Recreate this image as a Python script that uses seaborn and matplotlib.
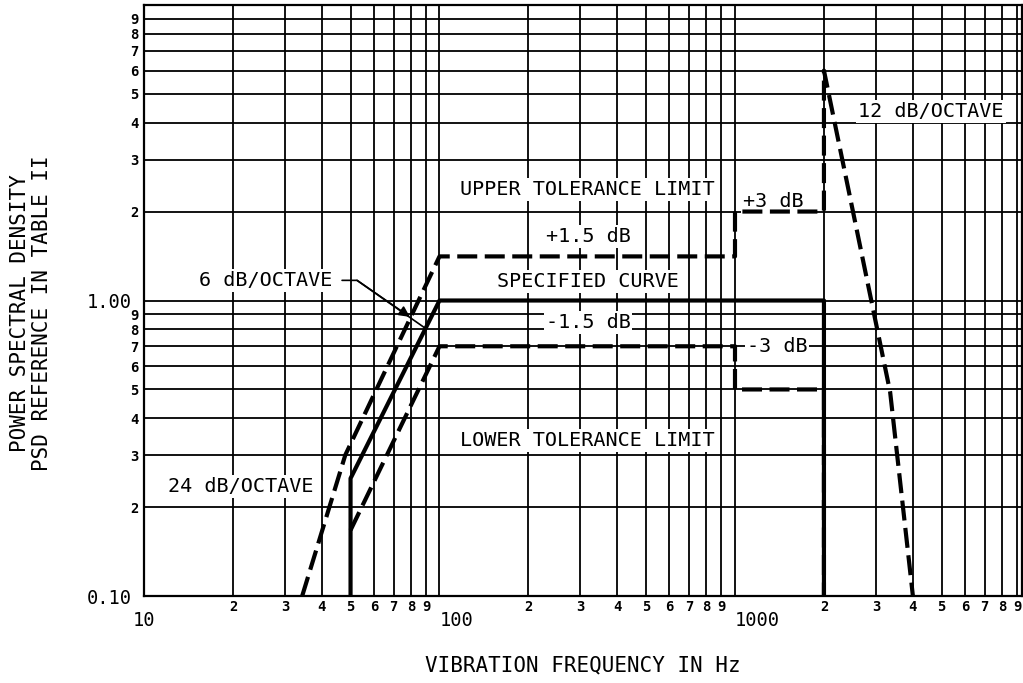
import numpy as np
import matplotlib
matplotlib.use('Agg')
import matplotlib.pyplot as plt
import matplotlib.ticker as mticker
import seaborn as sns

# Plot styling
sns.set_style('white')
plt.rcParams['font.family'] = ['DejaVu Sans Mono', 'DejaVu Sans']
plt.rcParams['axes.linewidth'] = 1.6
plt.rcParams['text.color'] = 'black'
plt.rcParams['axes.labelcolor'] = 'black'

# break points of the curves (frequency in Hz, PSD reference)
spec_freq = [50, 50, 100, 2000, 2000]
spec_psd = [0.10, 0.25, 1.00, 1.00, 0.10]
upper_freq = [34.3, 48, 100, 1000, 1000, 2000, 2000, 3350, 4000]
upper_psd = [0.10, 0.30, 1.41, 1.41, 2.00, 2.00, 6.00, 0.49, 0.10]
lower_freq = [50, 100, 1000, 1000, 2000, 2000]
lower_psd = [0.167, 0.70, 0.70, 0.50, 0.50, 0.10]

# axis ticks
x_major = [10, 100, 1000]
x_major_labels = ['10', '100', '1000']
y_major = [0.1, 1.0]
y_major_labels = ['0.10', '1.00']
minor_digits = [2, 3, 4, 5, 6, 7, 8, 9]

# curve annotations: text, freq, psd
notes = [
    ('UPPER TOLERANCE LIMIT', 316, 2.37),
    ('+3 dB', 1346, 2.17),
    ('+1.5 dB', 318, 1.65),
    ('SPECIFIED CURVE', 318, 1.16),
    ('-1.5 dB', 318, 0.84),
    ('-3 dB', 1387, 0.70),
    ('LOWER TOLERANCE LIMIT', 316, 0.337),
    ('12 dB/OCTAVE', 4600, 4.35),
    ('24 dB/OCTAVE', 21.3, 0.234),
]

fig = plt.figure(figsize=(10.23, 6.83), dpi=100)
ax = fig.add_axes([144 / 1023, 87 / 683, 878 / 1023, 591 / 683])
ax.set_xscale('log')
ax.set_yscale('log')

dash = (0, (4.8, 1.8))
sns.lineplot(x=spec_freq, y=spec_psd, sort=False, estimator=None, color='black',
             lw=3, ax=ax, zorder=3)
sns.lineplot(x=upper_freq, y=upper_psd, sort=False, estimator=None, color='black',
             lw=3, linestyle=dash, ax=ax, zorder=3)
sns.lineplot(x=lower_freq, y=lower_psd, sort=False, estimator=None, color='black',
             lw=3, linestyle=dash, ax=ax, zorder=3)

ax.set_xlim(10, 9360)
ax.set_ylim(0.1, 10)

# ticks: decades get big labels, minor grid lines get single digits
x_minor = [d * 10.0 ** k for k in (1, 2, 3) for d in minor_digits]
y_minor = [d * 10.0 ** k for k in (-1, 0) for d in minor_digits]
ax.xaxis.set_major_locator(mticker.FixedLocator(x_major))
ax.xaxis.set_major_formatter(mticker.FixedFormatter(x_major_labels))
ax.xaxis.set_minor_locator(mticker.FixedLocator(x_minor))
ax.xaxis.set_minor_formatter(mticker.FixedFormatter([str(d) for d in minor_digits] * 3))
ax.yaxis.set_major_locator(mticker.FixedLocator(y_major))
ax.yaxis.set_major_formatter(mticker.FixedFormatter(y_major_labels))
ax.yaxis.set_minor_locator(mticker.FixedLocator(y_minor))
ax.yaxis.set_minor_formatter(mticker.FixedFormatter([str(d) for d in minor_digits] * 2))

ax.tick_params(which='both', length=0, colors='black')
ax.tick_params(axis='x', which='major', labelsize=13.5, pad=11)
ax.tick_params(axis='x', which='minor', labelsize=10, pad=3)
ax.tick_params(axis='y', which='major', labelsize=13.5, pad=8.5)
ax.tick_params(axis='y', which='minor', labelsize=10, pad=4)
for lab in ax.get_xticklabels(minor=True) + ax.get_yticklabels(minor=True):
    lab.set_fontweight('bold')
for lab in ax.get_xticklabels()[1:]:
    lab.set_ha('left')

ax.grid(which='both', color='black', lw=1.3)
ax.set_axisbelow(True)
for sp in ax.spines.values():
    sp.set_color('black')

# white boxes blank the grid behind the words but stay under the curves
box = dict(facecolor='white', edgecolor='none', pad=1.5)
for txt, f, p in notes:
    ax.text(f, p, txt, fontsize=14.5, ha='center', va='center', bbox=box, zorder=2.5)

# 6 dB/octave leader with arrow head on the upper limit
ax.text(43.3, 1.17, '6 dB/OCTAVE', fontsize=14.5, ha='right', va='center', bbox=box, zorder=2.5)
ax.plot([46.8, 52.6, 89.3], [1.17, 1.17, 0.807], color='black', lw=1.2, zorder=5)
ax.annotate('', xy=(79.4, 0.88), xytext=(52.6, 1.17),
            arrowprops=dict(arrowstyle='-|>', color='black', lw=1.2,
                            mutation_scale=16, shrinkA=0, shrinkB=0), zorder=5)

ax.set_xlabel('VIBRATION FREQUENCY IN Hz', fontsize=15, va='center')
ax.xaxis.set_label_coords(0.5, -0.1168)
ax.set_ylabel('POWER SPECTRAL DENSITY\nPSD REFERENCE IN TABLE II', fontsize=15,
              va='center', linespacing=1.1)
ax.yaxis.set_label_coords(-0.1287, 0.479)

fig.savefig('out.png', dpi=100)
